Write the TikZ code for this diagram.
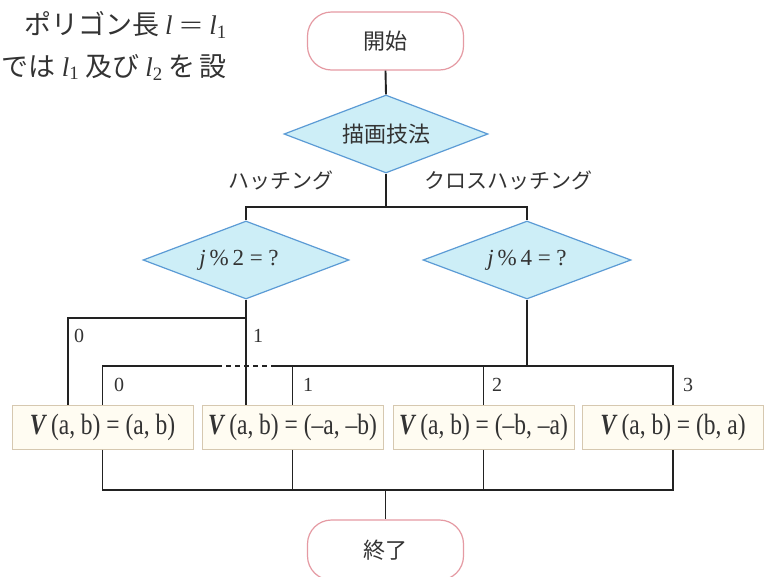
\documentclass[tikz,border=0pt]{standalone}
\usepackage{fontspec}
\setmainfont{Liberation Serif}
\newfontfamily\jp{Noto Sans CJK JP}
\usetikzlibrary{shapes.geometric}
\definecolor{linec}{HTML}{222222}
\definecolor{txt}{HTML}{333333}
\definecolor{termc}{HTML}{E59AA3}
\definecolor{decc}{HTML}{5B9BD5}
\definecolor{decf}{HTML}{CDEEF7}
\definecolor{boxc}{HTML}{D6C8B0}
\definecolor{boxf}{HTML}{FFFCF2}
\tikzset{
  ln/.style={draw=linec, line width=1.9pt},
  term/.style={draw=termc, line width=1.2pt, fill=white, rounded corners=24pt,
    minimum width=156pt, minimum height=58pt, inner sep=0pt, text=txt,
    font=\jp\fontsize{22}{24}\selectfont},
  dec/.style={diamond, shape aspect=2.64, draw=decc, fill=decf, line width=1.2pt,
    minimum width=206pt, minimum height=78pt, inner sep=0pt, text=txt,
    font=\fontsize{23}{25}\selectfont},
  res/.style={draw=boxc, fill=boxf, line width=1pt, minimum width=181pt,
    minimum height=44pt, inner sep=0pt, text=txt, font=\fontsize{23.5}{25}\selectfont},
  lab/.style={inner sep=0pt, text=txt, font=\fontsize{20}{22}\selectfont},
  jlab/.style={inner sep=0pt, text=txt, font=\jp\fontsize{21}{23}\selectfont},
  bg/.style={inner sep=0pt, text=txt, font=\fontsize{27}{29}\selectfont}
}
\newcommand\VV{\textbf{\textit{V}}\,}
\newcommand\tall[1]{\scalebox{1}[1.25]{#1}}
\begin{document}
\begin{tikzpicture}[x=1pt,y=-1pt]
\clip (0,0) rectangle (766,576);
\fill[white] (0,0) rectangle (766,576);

% background text
\node[bg, anchor=east] (t1) at (227,25) {{\jp ポリゴン長}\hspace{6pt}{\itshape l}\hspace{7pt}\scalebox{1.5}[1]{=}\hspace{7pt}{\itshape l}\textsubscript{1}};
\node[bg, anchor=east] (t2) at (227,67) {{\jp では}\hspace{6pt}{\itshape l}\textsubscript{1}\hspace{6pt}{\jp 及び}\hspace{6pt}{\itshape l}\textsubscript{2}\hspace{6pt}{\jp を\hspace{4pt}設}};

% nodes
\node[term] (start) at (385.5,41) {開始};
\node[dec, minimum width=204pt, font=\jp\fontsize{22}{24}\selectfont] (d1) at (386,134) {描画技法};
\node[jlab] (hl) at (281,180) {ハッチング};
\node[jlab] (hr) at (508,180) {クロスハッチング};
\node[dec] (d2) at (246,260) {\hspace{-14pt}{\itshape j}\,\%\,2 = ?};
\node[dec, minimum width=208pt] (d3) at (527,260) {{\itshape j}\,\%\,4 = ?};

\node[res] (b1) at (102.5,427) {\tall{\VV(a, b) = (a, b)}};
\node[res] (b2) at (292.5,427) {\tall{\VV(a, b) = (–a, –b)}};
\node[res] (b3) at (483.5,427) {\tall{\VV(a, b) = (–b, –a)}};
\node[res] (b4) at (673,427) {\tall{\VV(a, b) = (b, a)}};
\node[term, minimum height=60pt] (end) at (385.5,550) {終了};

% labels
\node[lab] (n0a) at (79,336) {0};
\node[lab] (n1a) at (258,336) {1};
\node[lab] (n0b) at (119,385) {0};
\node[lab] (n1b) at (308,385) {1};
\node[lab] (n2b) at (497,385) {2};
\node[lab] (n3b) at (688,385) {3};

% coordinates
\coordinate (j1) at (386,207);
\coordinate (h2) at (246,207);
\coordinate (h3) at (527,207);
\coordinate (u0) at (68,318);
\coordinate (u1) at (246,318);
\coordinate (ly) at (0,366);
\coordinate (ga) at (222,366);
\coordinate (gb) at (272,366);
\coordinate (by) at (0,490);

% connectors
\draw[ln] (start.south) -- (d1.north);
\draw[ln] (d1.south) -- (j1);
\draw[ln] (d2.north) -- (h2) -- (h3) -- (d3.north);
\draw[ln] (d2.south) -- (d2.south |- b2.north);
\draw[ln] (u1) -- (u0) -- (u0 |- b1.north);
\draw[ln] (d3.south) -- (d3.south |- ly);
\draw[ln] (b1.north) -- (b1.north |- ly) -- (ga);
\draw[ln, dash pattern=on 5pt off 4pt, dash phase=5pt] (ga) -- (gb);
\draw[ln] (gb) -- (b4.north |- ly) -- (b4.north);
\draw[ln] (b2.north) -- (b2.north |- ly);
\draw[ln] (b3.north) -- (b3.north |- ly);
\draw[ln] (b1.south) -- (b1.south |- by) -- (b4.south |- by) -- (b4.south);
\draw[ln] (b2.south) -- (b2.south |- by);
\draw[ln] (b3.south) -- (b3.south |- by);
\draw[ln] (end.north |- by) -- (end.north);
\end{tikzpicture}
\end{document}
